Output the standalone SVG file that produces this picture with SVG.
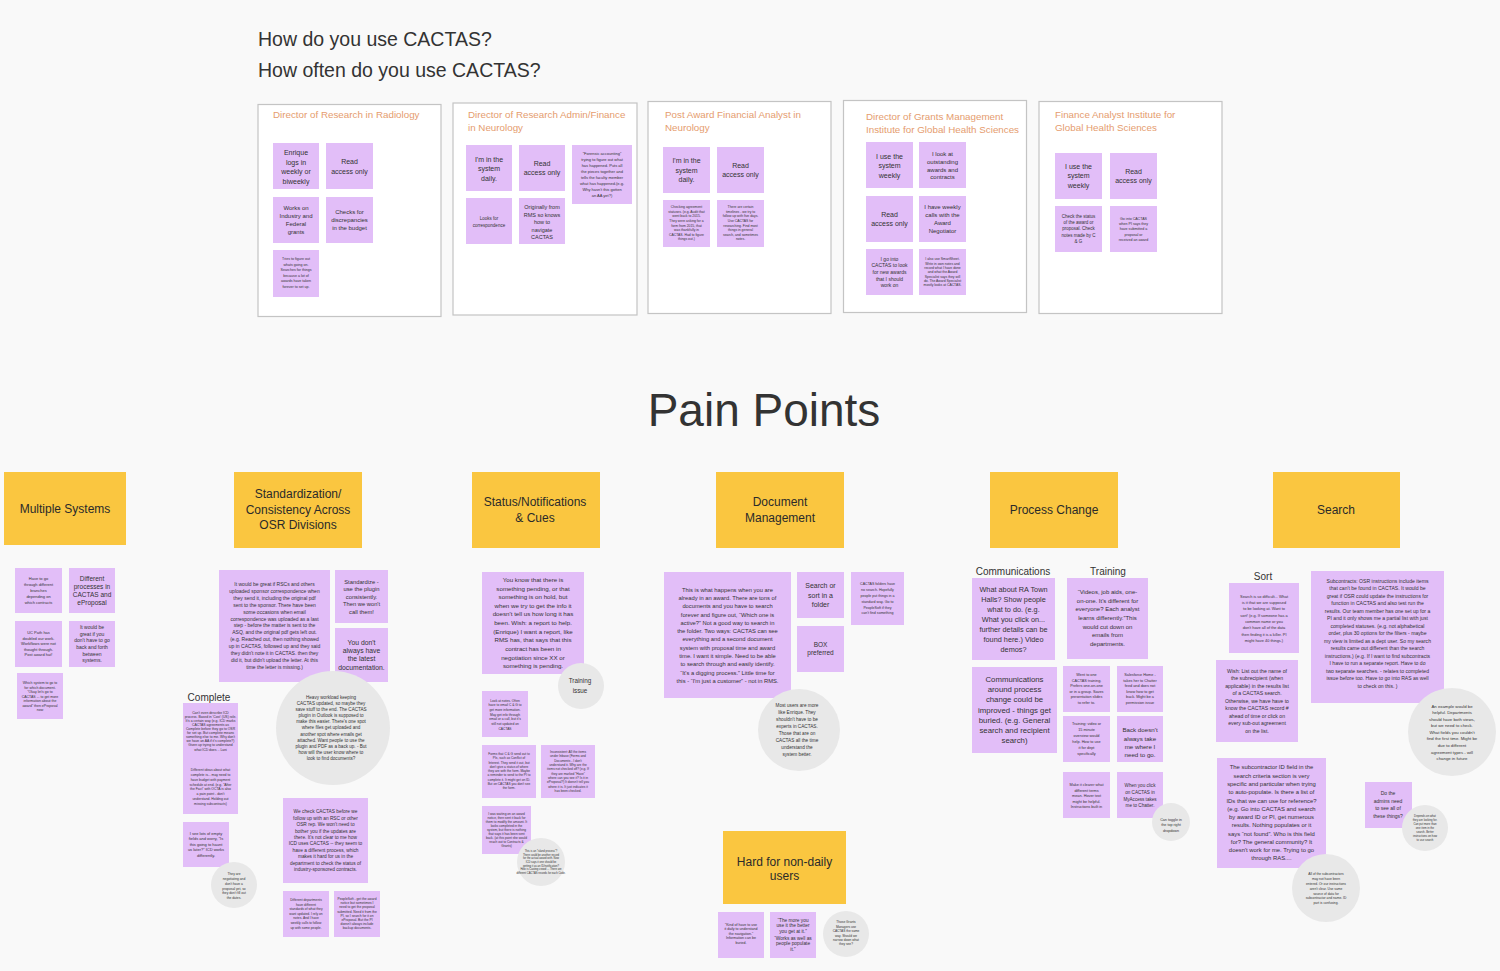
<svg xmlns="http://www.w3.org/2000/svg" width="1500" height="971" viewBox="0 0 1500 971">
<defs>
<style>
text{font-family:"Liberation Sans",Arial,sans-serif;fill:#333}
.m{text-anchor:middle}
.s{fill:#E2BEF8}
.c{fill:#E8E8E8}
.y{fill:#FAC640}
.fr{fill:#FFFFFF;stroke:#C4C4C4;stroke-width:1.2}
.ft{fill:#E59C6E;font-size:9.8px}
.h{font-size:12px;fill:#2a2a2a}
</style>
</defs>
<rect x="0" y="0" width="1500" height="971" fill="#F9F9F9"/>

<g id="questions">
<text x="258" y="46" font-size="19.5" fill="#222">How do you use CACTAS?</text>
<text x="258" y="77" font-size="19.5" fill="#222">How often do you use CACTAS?</text>
</g>

<!-- Frame 1 -->
<g id="frame-radiology">
<rect class="fr" x="258" y="104.5" width="183" height="212"/>
<text class="ft" x="273" y="118">Director of Research in Radiology</text>
<rect class="s" x="273" y="143" width="46" height="46"/>
<text class="m" font-size="7"><tspan x="296" y="155">Enrique</tspan><tspan x="296" y="164.5">logs in</tspan><tspan x="296" y="174">weekly or</tspan><tspan x="296" y="183.5">biweekly</tspan></text>
<rect class="s" x="326" y="143" width="47" height="46"/>
<text class="m" font-size="7"><tspan x="349.5" y="164">Read</tspan><tspan x="349.5" y="173.5">access only</tspan></text>
<rect class="s" x="273" y="197" width="46" height="46"/>
<text class="m" font-size="6"><tspan x="296" y="210">Works on</tspan><tspan x="296" y="218">Industry and</tspan><tspan x="296" y="226">Federal</tspan><tspan x="296" y="234">grants</tspan></text>
<rect class="s" x="326" y="197" width="47" height="46"/>
<text class="m" font-size="6"><tspan x="349.5" y="214">Checks for</tspan><tspan x="349.5" y="222">discrepancies</tspan><tspan x="349.5" y="230">in the budget</tspan></text>
<rect class="s" x="273" y="250" width="46" height="47"/>
<text class="m" font-size="3.6"><tspan x="296" y="260.3">Tries to figure out</tspan><tspan x="296" y="265.8">whats going on.</tspan><tspan x="296" y="271.3">Searches for things</tspan><tspan x="296" y="276.8">because a lot of</tspan><tspan x="296" y="282.3">awards have taken</tspan><tspan x="296" y="287.8">forever to set up.</tspan></text>
</g>

<!-- Frame 2 -->
<g id="frame-neurology-admin">
<rect class="fr" x="453" y="103" width="184" height="212"/>
<text class="ft"><tspan x="468" y="118">Director of Research Admin/Finance</tspan><tspan x="468" y="131">in Neurology</tspan></text>
<rect class="s" x="466" y="145" width="46" height="46"/>
<text class="m" font-size="7"><tspan x="489" y="161.5">I'm in the</tspan><tspan x="489" y="171">system</tspan><tspan x="489" y="180.5">daily.</tspan></text>
<rect class="s" x="519" y="145" width="46" height="46"/>
<text class="m" font-size="7"><tspan x="542" y="165.5">Read</tspan><tspan x="542" y="175">access only</tspan></text>
<rect class="s" x="572" y="145" width="60" height="59"/>
<text class="m" font-size="4"><tspan x="602" y="154.7">“Forensic accounting”</tspan><tspan x="602" y="160.7">trying to figure out what</tspan><tspan x="602" y="166.7">has happened. Puts all</tspan><tspan x="602" y="172.7">the pieces together and</tspan><tspan x="602" y="178.7">tells the faculty member</tspan><tspan x="602" y="184.7">what has happened.(e.g.</tspan><tspan x="602" y="190.7">Why hasn't this gotten</tspan><tspan x="602" y="196.7">an AA yet?)</tspan></text>
<rect class="s" x="466" y="198" width="46" height="46"/>
<text class="m" font-size="4.5"><tspan x="489" y="219.6">Looks for</tspan><tspan x="489" y="226.6">correspondence</tspan></text>
<rect class="s" x="519" y="198" width="46" height="46"/>
<text class="m" font-size="5.5"><tspan x="542" y="209">Originally from</tspan><tspan x="542" y="216.5">RMS so knows</tspan><tspan x="542" y="224">how to</tspan><tspan x="542" y="231.5">navigate</tspan><tspan x="542" y="239">CACTAS</tspan></text>
</g>

<!-- Frame 3 -->
<g id="frame-post-award">
<rect class="fr" x="648" y="101.5" width="183" height="212"/>
<text class="ft"><tspan x="665" y="118">Post Award Financial Analyst in</tspan><tspan x="665" y="131">Neurology</tspan></text>
<rect class="s" x="663" y="147" width="47" height="46"/>
<text class="m" font-size="7"><tspan x="686.5" y="162.5">I'm in the</tspan><tspan x="686.5" y="172.5">system</tspan><tspan x="686.5" y="182">daily.</tspan></text>
<rect class="s" x="717" y="147" width="47" height="46"/>
<text class="m" font-size="7"><tspan x="740.5" y="167.5">Read</tspan><tspan x="740.5" y="177">access only</tspan></text>
<rect class="s" x="663" y="200" width="47" height="47"/>
<text class="m" font-size="3.4"><tspan x="686.5" y="208.2">Checking agreement</tspan><tspan x="686.5" y="212.8">statuses. (e.g. Audit that</tspan><tspan x="686.5" y="217.4">went back to 2015.</tspan><tspan x="686.5" y="221.9">They were asking for a</tspan><tspan x="686.5" y="226.5">form from 2015, that</tspan><tspan x="686.5" y="231.1">was thankfully in</tspan><tspan x="686.5" y="235.6">CACTAS. Had to figure</tspan><tspan x="686.5" y="240.2">things out.)</tspan></text>
<rect class="s" x="717" y="200" width="47" height="47"/>
<text class="m" font-size="3.4"><tspan x="740.5" y="208.2">There are certain</tspan><tspan x="740.5" y="212.8">timelines - we try to</tspan><tspan x="740.5" y="217.4">follow up with five days.</tspan><tspan x="740.5" y="221.9">Use CACTAS for</tspan><tspan x="740.5" y="226.5">researching. Find most</tspan><tspan x="740.5" y="231.1">things in general</tspan><tspan x="740.5" y="235.6">search, and sometimes</tspan><tspan x="740.5" y="240.2">notes.</tspan></text>
</g>

<!-- Frame 4 -->
<g id="frame-grants-mgmt">
<rect class="fr" x="843.5" y="100.5" width="183" height="212"/>
<text class="ft"><tspan x="866" y="120">Director of Grants Management</tspan><tspan x="866" y="133">Institute for Global Health Sciences</tspan></text>
<rect class="s" x="866" y="142" width="47" height="46"/>
<text class="m" font-size="7"><tspan x="889.5" y="158.5">I use the</tspan><tspan x="889.5" y="168">system</tspan><tspan x="889.5" y="177.5">weekly</tspan></text>
<rect class="s" x="919" y="142" width="47" height="46"/>
<text class="m" font-size="6"><tspan x="942.5" y="155.8">I look at</tspan><tspan x="942.5" y="163.5">outstanding</tspan><tspan x="942.5" y="171.5">awards and</tspan><tspan x="942.5" y="179.2">contracts</tspan></text>
<rect class="s" x="866" y="196" width="47" height="46"/>
<text class="m" font-size="7"><tspan x="889.5" y="216.5">Read</tspan><tspan x="889.5" y="226">access only</tspan></text>
<rect class="s" x="919" y="196" width="47" height="46"/>
<text class="m" font-size="6"><tspan x="942.5" y="209.1">I have weekly</tspan><tspan x="942.5" y="216.8">calls with the</tspan><tspan x="942.5" y="224.8">Award</tspan><tspan x="942.5" y="232.8">Negotiator</tspan></text>
<rect class="s" x="866" y="249" width="47" height="46"/>
<text class="m" font-size="5"><tspan x="889.5" y="260.7">I go into</tspan><tspan x="889.5" y="267.4">CACTAS to look</tspan><tspan x="889.5" y="274">for new awards</tspan><tspan x="889.5" y="280.7">that I should</tspan><tspan x="889.5" y="287.4">work on</tspan></text>
<rect class="s" x="919" y="249" width="47" height="46"/>
<text class="m" font-size="3.4"><tspan x="942.5" y="260.2">I also use SmartSheet.</tspan><tspan x="942.5" y="264.5">Write in own notes and</tspan><tspan x="942.5" y="268.8">record what I have done</tspan><tspan x="942.5" y="273.2">and what the Award</tspan><tspan x="942.5" y="277.5">Specialist says they will</tspan><tspan x="942.5" y="281.8">do. The Award Specialist</tspan><tspan x="942.5" y="286.2">mostly looks at CACTAS.</tspan></text>
</g>

<!-- Frame 5 -->
<g id="frame-finance-analyst">
<rect class="fr" x="1039" y="101.5" width="183" height="212"/>
<text class="ft"><tspan x="1055" y="118">Finance Analyst Institute for</tspan><tspan x="1055" y="131">Global Health Sciences</tspan></text>
<rect class="s" x="1055" y="153" width="47" height="46"/>
<text class="m" font-size="7"><tspan x="1078.5" y="168.8">I use the</tspan><tspan x="1078.5" y="178.2">system</tspan><tspan x="1078.5" y="187.8">weekly</tspan></text>
<rect class="s" x="1110" y="153" width="47" height="46"/>
<text class="m" font-size="7"><tspan x="1133.5" y="173.5">Read</tspan><tspan x="1133.5" y="183.2">access only</tspan></text>
<rect class="s" x="1055" y="206" width="47" height="46"/>
<text class="m" font-size="4.5"><tspan x="1078.5" y="217.9">Check the status</tspan><tspan x="1078.5" y="223.9">of the award or</tspan><tspan x="1078.5" y="230.3">proposal. Check</tspan><tspan x="1078.5" y="236.6">notes made by C</tspan><tspan x="1078.5" y="243.3">&amp; G</tspan></text>
<rect class="s" x="1110" y="206" width="47" height="46"/>
<text class="m" font-size="3.6"><tspan x="1133.5" y="219.6">Go into CACTAS</tspan><tspan x="1133.5" y="225">when PI says they</tspan><tspan x="1133.5" y="230.3">have submitted a</tspan><tspan x="1133.5" y="235.6">proposal or</tspan><tspan x="1133.5" y="241.3">received an award</tspan></text>
</g>

<g id="pain-points-title">
<text class="m" x="764" y="426" font-size="46" fill="#111">Pain Points</text>
</g>

<!-- Multiple Systems -->
<g id="multiple-systems">
<rect class="y" x="4" y="472" width="122" height="73"/>
<text class="m h" x="65" y="513">Multiple Systems</text>
<rect class="s" x="15" y="568" width="47" height="45"/>
<text class="m" font-size="4"><tspan x="38.5" y="580.4">Have to go</tspan><tspan x="38.5" y="586.4">through different</tspan><tspan x="38.5" y="592.1">branches</tspan><tspan x="38.5" y="598.1">depending on</tspan><tspan x="38.5" y="604.1">which contracts</tspan></text>
<rect class="s" x="69" y="568" width="46" height="45"/>
<text class="m" font-size="6.5"><tspan x="92" y="581.3">Different</tspan><tspan x="92" y="589">processes in</tspan><tspan x="92" y="597">CACTAS and</tspan><tspan x="92" y="605">eProposal</tspan></text>
<rect class="s" x="15" y="621" width="47" height="46"/>
<text class="m" font-size="4"><tspan x="38.5" y="634.1">UC Path has</tspan><tspan x="38.5" y="639.7">doubled our work.</tspan><tspan x="38.5" y="645.4">Workflows were not</tspan><tspan x="38.5" y="650.7">thought through.</tspan><tspan x="38.5" y="656.4">Post award hat!</tspan></text>
<rect class="s" x="69" y="621" width="46" height="46"/>
<text class="m" font-size="5"><tspan x="92" y="629">It would be</tspan><tspan x="92" y="635.7">great if you</tspan><tspan x="92" y="642.4">don't have to go</tspan><tspan x="92" y="649">back and forth</tspan><tspan x="92" y="655.7">between</tspan><tspan x="92" y="661.7">systems.</tspan></text>
<rect class="s" x="17" y="673" width="46" height="46"/>
<text class="m" font-size="3.5"><tspan x="40" y="683.9">Which system to go to</tspan><tspan x="40" y="688.5">for which document.</tspan><tspan x="40" y="693">“Okay let's go to</tspan><tspan x="40" y="697.6">CACTAS ... to get more</tspan><tspan x="40" y="702.1">information about the</tspan><tspan x="40" y="706.7">award” then eProposal</tspan><tspan x="40" y="711.2">now</tspan></text>
</g>

<!-- Standardization -->
<g id="standardization">
<rect class="y" x="234" y="472" width="128" height="76"/>
<text class="m h"><tspan x="298" y="498">Standardization/</tspan><tspan x="298" y="513.5">Consistency Across</tspan><tspan x="298" y="529">OSR Divisions</tspan></text>
<rect class="s" x="219" y="570" width="111" height="112"/>
<text class="m" font-size="5"><tspan x="274.5" y="585.8">It would be great if RSCs and others</tspan><tspan x="274.5" y="592.7">uploaded sponsor correspondence when</tspan><tspan x="274.5" y="599.6">they send it, including the original pdf</tspan><tspan x="274.5" y="606.6">sent to the sponsor. There have been</tspan><tspan x="274.5" y="613.5">some occasions when email</tspan><tspan x="274.5" y="620.5">correspondence was uploaded as a last</tspan><tspan x="274.5" y="627.4">step - before the matter is sent to the</tspan><tspan x="274.5" y="634.3">ASQ, and the original pdf gets left out.</tspan><tspan x="274.5" y="641.3">(e.g. Reached out, then nothing showed</tspan><tspan x="274.5" y="648.2">up in CACTAS, followed up and they said</tspan><tspan x="274.5" y="655.2">they didn't note it in CACTAS. then they</tspan><tspan x="274.5" y="662.1">did it, but didn't upload the letter. At this</tspan><tspan x="274.5" y="669">time the letter is missing.)</tspan></text>
<rect class="s" x="335" y="570" width="53" height="53"/>
<text class="m" font-size="5.8"><tspan x="361.5" y="583.7">Standardize -</tspan><tspan x="361.5" y="591">use the plugin</tspan><tspan x="361.5" y="598.7">consistently.</tspan><tspan x="361.5" y="606.3">Then we won't</tspan><tspan x="361.5" y="613.7">call them!</tspan></text>
<rect class="s" x="335" y="628" width="53" height="54"/>
<text class="m" font-size="6.8"><tspan x="361.5" y="644.7">You don't</tspan><tspan x="361.5" y="653.1">always have</tspan><tspan x="361.5" y="661.4">the latest</tspan><tspan x="361.5" y="670.1">documentation.</tspan></text>
<circle class="c" cx="333" cy="728" r="57"/>
<text class="m" font-size="4.6"><tspan x="331" y="698.6">Heavy workload keeping</tspan><tspan x="331" y="704.8">CACTAS updated, so maybe they</tspan><tspan x="331" y="710.9">save stuff to the end. The CACTAS</tspan><tspan x="331" y="717.1">plugin in Outlook is supposed to</tspan><tspan x="331" y="723.3">make this easier. There's one spot</tspan><tspan x="331" y="729.4">where files get uploaded and</tspan><tspan x="331" y="735.6">another spot where emails get</tspan><tspan x="331" y="741.8">attached. Want people to use the</tspan><tspan x="331" y="747.9">plugin and PDF as a back up. - But</tspan><tspan x="331" y="754.1">how will the user know where to</tspan><tspan x="331" y="760.3">look to find documents?</tspan></text>
<text class="m" x="209" y="700.5" font-size="10" fill="#222">Complete</text>
<rect class="s" x="183" y="703" width="55" height="111"/>
<text class="m" font-size="3.4"><tspan x="210.5" y="713.9">Can't even describe ICD</tspan><tspan x="210.5" y="718">process. Based in 'Cost' (US) role.</tspan><tspan x="210.5" y="722">It's a certain way (e.g. ICD marks</tspan><tspan x="210.5" y="726.1">CACTAS agreements as</tspan><tspan x="210.5" y="730.2">Complete before they go to OSR</tspan><tspan x="210.5" y="734.2">for set up. But complete means</tspan><tspan x="210.5" y="738.3">something else to me. Why don't</tspan><tspan x="210.5" y="742.4">we have an AA if it's complete?)</tspan><tspan x="210.5" y="746.4">Given up trying to understand</tspan><tspan x="210.5" y="750.5">what ICD does. - Lani</tspan><tspan x="210.5" y="771.2">Different ideas about what</tspan><tspan x="210.5" y="776">complete is... may need to</tspan><tspan x="210.5" y="780.7">have budget with payment</tspan><tspan x="210.5" y="785.5">schedule at end. (e.g. “After</tspan><tspan x="210.5" y="790.3">the Fact” with OCTA is also</tspan><tspan x="210.5" y="795">a pain point - don't</tspan><tspan x="210.5" y="799.8">understand. Holding out</tspan><tspan x="210.5" y="804.5">missing subcontracts)</tspan></text>
<rect class="s" x="183" y="822" width="46" height="45"/>
<text class="m" font-size="4"><tspan x="206" y="834.7">I see lots of empty</tspan><tspan x="206" y="840.4">fields and worry, “Is</tspan><tspan x="206" y="846.1">this going to haunt</tspan><tspan x="206" y="851.4">us later?” ICD works</tspan><tspan x="206" y="856.7">differently.</tspan></text>
<circle class="c" cx="234" cy="885" r="23"/>
<text class="m" font-size="3.3"><tspan x="234" y="875.2">They are</tspan><tspan x="234" y="880.2">negotiating and</tspan><tspan x="234" y="884.5">don't have a</tspan><tspan x="234" y="889.5">proposal yet, so</tspan><tspan x="234" y="893.9">they don't fill out</tspan><tspan x="234" y="898.5">the dates.</tspan></text>
<rect class="s" x="283" y="798" width="85" height="85"/>
<text class="m" font-size="4.8"><tspan x="325.5" y="813.4">We check CACTAS before we</tspan><tspan x="325.5" y="819.8">follow up with an RSC or other</tspan><tspan x="325.5" y="826.2">OSR rep. We won't need to</tspan><tspan x="325.5" y="832.6">bother you if the updates are</tspan><tspan x="325.5" y="839">there. It's not clear to me how</tspan><tspan x="325.5" y="845.4">ICD uses CACTAS -- they seem to</tspan><tspan x="325.5" y="851.8">have a different process, which</tspan><tspan x="325.5" y="858.2">makes it hard for us in the</tspan><tspan x="325.5" y="864.6">department to check the status of</tspan><tspan x="325.5" y="871">industry-sponsored contracts.</tspan></text>
<rect class="s" x="283" y="891" width="46" height="46"/>
<text class="m" font-size="3.3"><tspan x="306" y="901.2">Different departments</tspan><tspan x="306" y="905.7">have different</tspan><tspan x="306" y="910.3">standards of what they</tspan><tspan x="306" y="914.8">want updated. I rely on</tspan><tspan x="306" y="919.4">notes. And I have</tspan><tspan x="306" y="923.9">weekly calls to follow</tspan><tspan x="306" y="928.5">up with some people.</tspan></text>
<rect class="s" x="334" y="891" width="46" height="46"/>
<text class="m" font-size="3.3"><tspan x="357" y="899.9">PeopleSoft - get the award</tspan><tspan x="357" y="904.1">notice but sometimes I</tspan><tspan x="357" y="908.3">need to get the proposal</tspan><tspan x="357" y="912.5">submitted. Need it from the</tspan><tspan x="357" y="916.7">PI, so I search for it on</tspan><tspan x="357" y="920.9">eProposal. But the PI</tspan><tspan x="357" y="925.1">doesn't always include</tspan><tspan x="357" y="929.3">backup documents.</tspan></text>
</g>

<!-- Status -->
<g id="status-notifications">
<rect class="y" x="472" y="472" width="128" height="76"/>
<text class="m h"><tspan x="535" y="506">Status/Notifications</tspan><tspan x="535" y="521.5">&amp; Cues</tspan></text>
<rect class="s" x="482" y="572" width="102" height="102"/>
<text class="m" font-size="6.2"><tspan x="533" y="581.9">You know that there is</tspan><tspan x="533" y="590.5">something pending, or that</tspan><tspan x="533" y="599.1">something is on hold, but</tspan><tspan x="533" y="607.7">when we try to get the info it</tspan><tspan x="533" y="616.4">doesn't tell us how long it has</tspan><tspan x="533" y="625">been. Wish: a report to help.</tspan><tspan x="533" y="633.6">(Enrique) I want a report, like</tspan><tspan x="533" y="642.3">RMS has, that says that this</tspan><tspan x="533" y="650.9">contract has been in</tspan><tspan x="533" y="659.5">negotiation since XX or</tspan><tspan x="533" y="668.2">something is pending.</tspan></text>
<circle class="c" cx="581" cy="686" r="23"/>
<text class="m" font-size="6.3"><tspan x="580" y="683.1">Training</tspan><tspan x="580" y="692.8">issue</tspan></text>
<rect class="s" x="482" y="691" width="46" height="46"/>
<text class="m" font-size="3.3"><tspan x="505" y="701.5">Look at notes. Often</tspan><tspan x="505" y="706.2">have to email C &amp; G to</tspan><tspan x="505" y="710.8">get more information.</tspan><tspan x="505" y="715.5">May get info through</tspan><tspan x="505" y="720.2">email or a call, but it's</tspan><tspan x="505" y="724.8">still not updated on</tspan><tspan x="505" y="729.5">CACTAS</tspan></text>
<rect class="s" x="482" y="745" width="54" height="53"/>
<text class="m" font-size="3.2"><tspan x="509" y="755.1">Forms that C &amp; G send out to</tspan><tspan x="509" y="759.4">PIs, such as Conflict of</tspan><tspan x="509" y="763.6">Interest. They send it out, but</tspan><tspan x="509" y="767.9">don't give a status of where</tspan><tspan x="509" y="772.1">they are with the form. Maybe</tspan><tspan x="509" y="776.4">a reminder to send to the PI to</tspan><tspan x="509" y="780.6">complete it. It might get on ID.</tspan><tspan x="509" y="784.9">But on CACTAS you don't see</tspan><tspan x="509" y="789.1">the form.</tspan></text>
<rect class="s" x="541" y="745" width="54" height="53"/>
<text class="m" font-size="3.2"><tspan x="568" y="753.1">Inconsistent: All the items</tspan><tspan x="568" y="757.4">under Inbase (Forms and</tspan><tspan x="568" y="761.8">Documents - I don't</tspan><tspan x="568" y="766.1">understand it. Why are the</tspan><tspan x="568" y="770.4">items not checked off? (e.g. If</tspan><tspan x="568" y="774.8">they are marked “Have”</tspan><tspan x="568" y="779.1">where can you see it? Is it in</tspan><tspan x="568" y="783.4">eProposal?) It doesn't tell you</tspan><tspan x="568" y="787.8">where it is. It just indicates it</tspan><tspan x="568" y="792.1">has been checked.</tspan></text>
<rect class="s" x="482" y="806" width="49" height="48"/>
<text class="m" font-size="3.2"><tspan x="506.5" y="815.1">I was waiting on an award</tspan><tspan x="506.5" y="819.1">notice, then sent it back for</tspan><tspan x="506.5" y="823.1">them to modify the amount. It</tspan><tspan x="506.5" y="827.1">looks completed in the</tspan><tspan x="506.5" y="831.1">system, but there is nothing</tspan><tspan x="506.5" y="835.1">that says it has been sent</tspan><tspan x="506.5" y="839.1">back. (at this point she would</tspan><tspan x="506.5" y="843.1">reach out to Contracts &amp;</tspan><tspan x="506.5" y="847.1">Grants)</tspan></text>
<circle class="c" cx="541" cy="862" r="24"/>
<text class="m" font-size="2.7"><tspan x="541" y="852">This is an “island process”?</tspan><tspan x="541" y="855.6">There could be another record</tspan><tspan x="541" y="859.3">for the actual award with. Now</tspan><tspan x="541" y="863">ICD says it one should be</tspan><tspan x="541" y="866.6">getting it as an ID/notification?</tspan><tspan x="541" y="870.3">How is Casting crowd ... There are</tspan><tspan x="541" y="874">different CACTAS records for each Code.</tspan></text>
</g>

<!-- Document Management -->
<g id="document-management">
<rect class="y" x="716" y="472" width="128" height="76"/>
<text class="m h"><tspan x="780" y="506">Document</tspan><tspan x="780" y="521.5">Management</tspan></text>
<rect class="s" x="664" y="572" width="127" height="126"/>
<text class="m" font-size="5.8"><tspan x="727.5" y="591.7">This is what happens when you are</tspan><tspan x="727.5" y="600">already in an award. There are tons of</tspan><tspan x="727.5" y="608.3">documents and you have to search</tspan><tspan x="727.5" y="616.5">forever and figure out, “Which one is</tspan><tspan x="727.5" y="624.8">active?” Not a good way to search in</tspan><tspan x="727.5" y="633.1">the folder. Two ways: CACTAS can see</tspan><tspan x="727.5" y="641.4">everything and a second document</tspan><tspan x="727.5" y="649.6">system with proposal time and award</tspan><tspan x="727.5" y="657.9">time. I want it simple. Need to be able</tspan><tspan x="727.5" y="666.2">to search through and easily identify.</tspan><tspan x="727.5" y="674.5">“It's a digging process.” Little time for</tspan><tspan x="727.5" y="682.7">this - “I'm just a customer” -  not in RMS.</tspan></text>
<rect class="s" x="797" y="572" width="47" height="46"/>
<text class="m" font-size="7"><tspan x="820.5" y="588.2">Search or</tspan><tspan x="820.5" y="597.5">sort in a</tspan><tspan x="820.5" y="606.8">folder</tspan></text>
<rect class="s" x="797" y="626" width="47" height="46"/>
<text class="m" font-size="6.5"><tspan x="820.5" y="646.6">BOX</tspan><tspan x="820.5" y="655.3">preferred</tspan></text>
<rect class="s" x="851" y="572" width="53" height="53"/>
<text class="m" font-size="3.6"><tspan x="877.5" y="585.3">CACTAS folders have</tspan><tspan x="877.5" y="591.1">no search. Hopefully</tspan><tspan x="877.5" y="596.9">people put things in a</tspan><tspan x="877.5" y="602.7">standard way. Go to</tspan><tspan x="877.5" y="608.5">PeopleSoft if they</tspan><tspan x="877.5" y="614.3">can't find something</tspan></text>
<circle class="c" cx="799" cy="730" r="41"/>
<text class="m" font-size="4.7"><tspan x="797" y="706.6">Most users are more</tspan><tspan x="797" y="713.7">like Enrique. They</tspan><tspan x="797" y="720.7">shouldn't have to be</tspan><tspan x="797" y="727.8">experts in CACTAS.</tspan><tspan x="797" y="734.8">Those that are on</tspan><tspan x="797" y="741.9">CACTAS all the time</tspan><tspan x="797" y="748.9">understand the</tspan><tspan x="797" y="756">system better.</tspan></text>
</g>

<!-- Hard for non-daily users -->
<g id="hard-for-non-daily">
<rect class="y" x="723" y="831" width="123" height="73"/>
<text class="m h"><tspan x="784.5" y="866">Hard for non-daily</tspan><tspan x="784.5" y="880">users</tspan></text>
<rect class="s" x="718" y="912" width="46" height="46"/>
<text class="m" font-size="3.6"><tspan x="741" y="925.6">“Kind of have to use</tspan><tspan x="741" y="930">it daily to understand</tspan><tspan x="741" y="934.6">the navigation.”</tspan><tspan x="741" y="939">Information can be</tspan><tspan x="741" y="943.6">buried.</tspan></text>
<rect class="s" x="770" y="912" width="46" height="46"/>
<text class="m" font-size="4.8"><tspan x="793" y="921.7">“The more you</tspan><tspan x="793" y="927.4">use it the better</tspan><tspan x="793" y="933">you get at it.”</tspan><tspan x="793" y="939.7">“Works as well as</tspan><tspan x="793" y="945.4">people populate</tspan><tspan x="793" y="951">it.”</tspan></text>
<circle class="c" cx="846" cy="934" r="23"/>
<text class="m" font-size="3.2"><tspan x="846" y="923.4">Those Grants</tspan><tspan x="846" y="927.8">Managers use</tspan><tspan x="846" y="932.2">CACTAS the same</tspan><tspan x="846" y="936.6">way. Should we</tspan><tspan x="846" y="941">narrow down what</tspan><tspan x="846" y="945.4">they see?</tspan></text>
</g>

<!-- Process Change -->
<g id="process-change">
<rect class="y" x="990" y="472" width="128" height="76"/>
<text class="m h" x="1054" y="514">Process Change</text>
<text class="m" x="1013" y="574.8" font-size="10" fill="#222">Communications</text>
<text class="m" x="1108" y="574.8" font-size="10" fill="#222">Training</text>
<rect class="s" x="972" y="578" width="83" height="82"/>
<text class="m" font-size="7.3"><tspan x="1013.5" y="591.9">What about RA Town</tspan><tspan x="1013.5" y="601.9">Halls? Show people</tspan><tspan x="1013.5" y="611.9">what to do. (e.g.</tspan><tspan x="1013.5" y="621.9">What you click on...</tspan><tspan x="1013.5" y="631.6">further details can be</tspan><tspan x="1013.5" y="641.6">found here.) Video</tspan><tspan x="1013.5" y="651.6">demos?</tspan></text>
<rect class="s" x="972" y="667" width="85" height="86"/>
<text class="m" font-size="7.8"><tspan x="1014.5" y="682">Communications</tspan><tspan x="1014.5" y="692.4">around process</tspan><tspan x="1014.5" y="702.4">change could be</tspan><tspan x="1014.5" y="712.7">improved - things get</tspan><tspan x="1014.5" y="722.7">buried. (e.g. General</tspan><tspan x="1014.5" y="732.7">search and recipient</tspan><tspan x="1014.5" y="743">search)</tspan></text>
<rect class="s" x="1067" y="578" width="81" height="81"/>
<text class="m" font-size="6"><tspan x="1107.5" y="594.4">“Videos, job aids, one-</tspan><tspan x="1107.5" y="602.8">on-one. It's different for</tspan><tspan x="1107.5" y="611.4">everyone? Each analyst</tspan><tspan x="1107.5" y="620.1">learns differently.”This</tspan><tspan x="1107.5" y="628.8">would cut down on</tspan><tspan x="1107.5" y="637.4">emails from</tspan><tspan x="1107.5" y="646.1">departments.</tspan></text>
<rect class="s" x="1063" y="666" width="47" height="46"/>
<text class="m" font-size="3.8"><tspan x="1086.5" y="676.3">Went to one</tspan><tspan x="1086.5" y="681.6">CACTAS training.</tspan><tspan x="1086.5" y="687.3">Prefers one-on-one</tspan><tspan x="1086.5" y="692.6">or in a group. Saves</tspan><tspan x="1086.5" y="698">presentation slides</tspan><tspan x="1086.5" y="703.6">to refer to.</tspan></text>
<rect class="s" x="1117" y="666" width="46" height="46"/>
<text class="m" font-size="3.8"><tspan x="1140" y="676.3">Salesforce Home -</tspan><tspan x="1140" y="681.6">takes her to Chatter</tspan><tspan x="1140" y="687.3">feed and does not</tspan><tspan x="1140" y="692.6">know how to get</tspan><tspan x="1140" y="698">back. Might be a</tspan><tspan x="1140" y="703.6">permission issue</tspan></text>
<rect class="s" x="1063" y="716" width="47" height="46"/>
<text class="m" font-size="3.8"><tspan x="1086.5" y="725">Training: video or</tspan><tspan x="1086.5" y="731.1">15 minute</tspan><tspan x="1086.5" y="737.1">overview would</tspan><tspan x="1086.5" y="743.2">help. How to use</tspan><tspan x="1086.5" y="749.3">it for dept</tspan><tspan x="1086.5" y="755.3">specifically</tspan></text>
<rect class="s" x="1117" y="716" width="46" height="46"/>
<text class="m" font-size="6.2"><tspan x="1140" y="732.2">Back doesn't</tspan><tspan x="1140" y="740.5">always take</tspan><tspan x="1140" y="748.5">me where I</tspan><tspan x="1140" y="756.5">need to go.</tspan></text>
<rect class="s" x="1063" y="772" width="47" height="46"/>
<text class="m" font-size="3.8"><tspan x="1086.5" y="786">Make it clearer what</tspan><tspan x="1086.5" y="791.5">different terms</tspan><tspan x="1086.5" y="797">mean. Hover text</tspan><tspan x="1086.5" y="802.5">might be helpful.</tspan><tspan x="1086.5" y="808">Instructions built in</tspan></text>
<rect class="s" x="1117" y="772" width="46" height="46"/>
<text class="m" font-size="4.6"><tspan x="1140" y="787.3">When you click</tspan><tspan x="1140" y="793.9">on CACTAS in</tspan><tspan x="1140" y="800.6">MyAccess takes</tspan><tspan x="1140" y="806.9">me to Chatter.</tspan></text>
<circle class="c" cx="1171" cy="822" r="19"/>
<text class="m" font-size="3.7"><tspan x="1171" y="820.6">Can toggle in</tspan><tspan x="1171" y="826.3">the top right</tspan><tspan x="1171" y="832">dropdown</tspan></text>
</g>

<!-- Search -->
<g id="search">
<rect class="y" x="1273" y="472" width="127" height="76"/>
<text class="m h" x="1336" y="514">Search</text>
<text class="m" x="1263" y="580" font-size="10" fill="#222">Sort</text>
<rect class="s" x="1229" y="583" width="70" height="70"/>
<text class="m" font-size="3.9"><tspan x="1264" y="597.7">Search is so difficult... What</tspan><tspan x="1264" y="604">is it that we are supposed</tspan><tspan x="1264" y="610.3">to be looking at. Want to</tspan><tspan x="1264" y="616.7">sort! (e.g. If someone has a</tspan><tspan x="1264" y="623">common name or you</tspan><tspan x="1264" y="629.4">don't have all of the data</tspan><tspan x="1264" y="635.7">then finding it is a killer. PI</tspan><tspan x="1264" y="642.1">might have 40 things.)</tspan></text>
<rect class="s" x="1311" y="571" width="133" height="132"/>
<text class="m" font-size="5.1"><tspan x="1377.5" y="582.8">Subcontracts: OSR instructions include items</tspan><tspan x="1377.5" y="590.3">that can't be found in CACTAS.  It would be</tspan><tspan x="1377.5" y="597.8">great if OSR could update the instructions for</tspan><tspan x="1377.5" y="605.2">function in CACTAS and also test run the</tspan><tspan x="1377.5" y="612.7">results. Our team member has one set up for a</tspan><tspan x="1377.5" y="620.2">PI and it only shows me a partial list with just</tspan><tspan x="1377.5" y="627.7">completed statuses. (e.g.  not alphabetical</tspan><tspan x="1377.5" y="635.2">order, plus 30 options for the filters - maybe</tspan><tspan x="1377.5" y="642.6">my view is limited as a dept user. So my search</tspan><tspan x="1377.5" y="650.1">results came out different than the search</tspan><tspan x="1377.5" y="657.6">instructions.) (e.g. If I want to find subcontracts</tspan><tspan x="1377.5" y="665.1">I have to run a separate report.  Have to do</tspan><tspan x="1377.5" y="672.6">two separate searches. - relates to completed</tspan><tspan x="1377.5" y="680">issue before too. Have to go into RAS as well</tspan><tspan x="1377.5" y="687.5">to check on this. )</tspan></text>
<rect class="s" x="1216" y="660" width="82" height="82"/>
<text class="m" font-size="5.2"><tspan x="1257" y="672.8">Wish: List out the name of</tspan><tspan x="1257" y="680.3">the subrecipient (when</tspan><tspan x="1257" y="687.7">applicable) in the results list</tspan><tspan x="1257" y="695.2">of a CACTAS search.</tspan><tspan x="1257" y="702.6">Otherwise, we have have to</tspan><tspan x="1257" y="710.1">know the CACTAS record #</tspan><tspan x="1257" y="717.6">ahead of time or click on</tspan><tspan x="1257" y="725">every sub-out agreement</tspan><tspan x="1257" y="732.5">on the list.</tspan></text>
<circle class="c" cx="1452" cy="732" r="44"/>
<text class="m" font-size="4.3"><tspan x="1452" y="707.5">An example would be</tspan><tspan x="1452" y="714.1">helpful. Departments</tspan><tspan x="1452" y="720.7">should have both views,</tspan><tspan x="1452" y="727.3">but we need to check.</tspan><tspan x="1452" y="733.9">What fields you couldn't</tspan><tspan x="1452" y="740.4">find the first time. Might be</tspan><tspan x="1452" y="747">due to different</tspan><tspan x="1452" y="753.6">agreement types - will</tspan><tspan x="1452" y="760.2">change in future</tspan></text>
<rect class="s" x="1217" y="758" width="109" height="110"/>
<text class="m" font-size="5.9"><tspan x="1271.5" y="769.4">The subcontractor ID field in the</tspan><tspan x="1271.5" y="777.6">search criteria section is very</tspan><tspan x="1271.5" y="785.9">specific and particular when trying</tspan><tspan x="1271.5" y="794.2">to auto-populate. Is there a list of</tspan><tspan x="1271.5" y="802.5">IDs that we can use for reference?</tspan><tspan x="1271.5" y="810.7">(e.g. Go into CACTAS and search</tspan><tspan x="1271.5" y="819">by award ID or PI, get numerous</tspan><tspan x="1271.5" y="827.3">results. Nothing populates or it</tspan><tspan x="1271.5" y="835.6">says “not found”. Who is this field</tspan><tspan x="1271.5" y="843.8">for? The general community? It</tspan><tspan x="1271.5" y="852.1">doesn't work for me. Trying to go</tspan><tspan x="1271.5" y="860.4">through RAS....</tspan></text>
<rect class="s" x="1365" y="782" width="47" height="46"/>
<text class="m" font-size="5"><tspan x="1388" y="795.4">Do the</tspan><tspan x="1388" y="802.7">admins need</tspan><tspan x="1388" y="810.4">to see all of</tspan><tspan x="1388" y="818">these things?</tspan></text>
<circle class="c" cx="1425" cy="828" r="23"/>
<text class="m" font-size="2.8"><tspan x="1425" y="816.7">Depends on what</tspan><tspan x="1425" y="820.8">they are looking for.</tspan><tspan x="1425" y="824.9">Can put more than</tspan><tspan x="1425" y="829">one item in the</tspan><tspan x="1425" y="833.1">search. Better</tspan><tspan x="1425" y="837.2">instructions on how</tspan><tspan x="1425" y="841.3">to use search</tspan></text>
<circle class="c" cx="1326" cy="888" r="34"/>
<text class="m" font-size="3.3"><tspan x="1326" y="875.2">All of the subcontractors</tspan><tspan x="1326" y="880">may not have been</tspan><tspan x="1326" y="884.8">entered. Or our instructions</tspan><tspan x="1326" y="889.7">aren't clear. Use same</tspan><tspan x="1326" y="894.5">source of data for</tspan><tspan x="1326" y="899.3">subcontractor and name. ID</tspan><tspan x="1326" y="904.2">part is confusing.</tspan></text>
</g>

<g id="connectors"></g>
</svg>
